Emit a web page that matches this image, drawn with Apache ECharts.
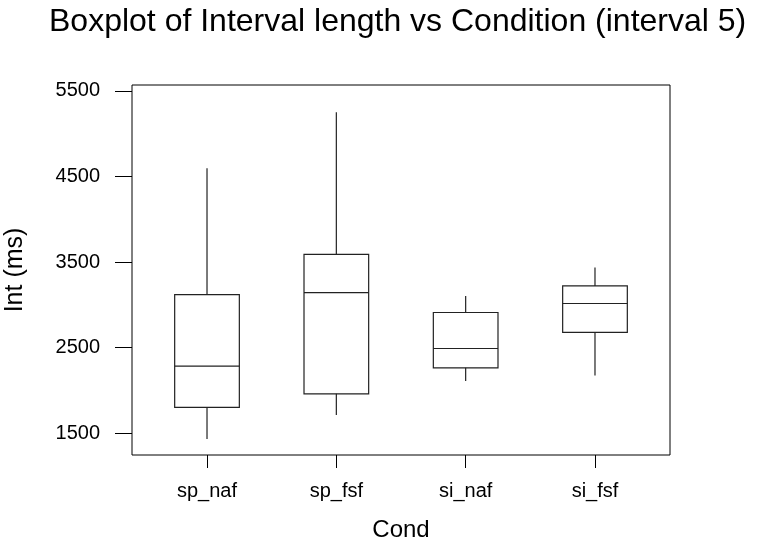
<!DOCTYPE html>
<html>
<head>
<meta charset="utf-8">
<script src="https://cdn.jsdelivr.net/npm/echarts@6/dist/echarts.min.js"></script>
<style>html,body{margin:0;padding:0;background:#fff;}#main{width:762px;height:542px;}</style>
</head>
<body>
<div id="main"></div>
<script>
const categories = ['sp_naf', 'sp_fsf', 'si_naf', 'si_fsf'];
const whiskerLow = [1433, 1713, 2110, 2176];
const q1 = [1803, 1962, 2265, 2678];
const median = [2285, 3144, 2491, 3016];
const q3 = [3121, 3591, 2911, 3221];
const whiskerHigh = [4597, 5250, 3105, 3436];
const yTicks = [1500, 2500, 3500, 4500, 5500];

const data = categories.map((c, i) => [i, whiskerLow[i], q1[i], median[i], q3[i], whiskerHigh[i]]);
const FONT = 'Liberation Sans, Arial, Helvetica, sans-serif';
const chart = echarts.init(document.getElementById('main'));
chart.setOption({
  backgroundColor: '#fff',
  animation: false,
  title: {
    text: 'Boxplot of Interval length vs Condition (interval 5)',
    left: 44, top: 1,
    textStyle: { fontFamily: FONT, fontSize: 32, fontWeight: 'normal', color: '#000' }
  },
  grid: { left: 132, right: 92, top: 85, bottom: 87, show: true, borderColor: '#000', borderWidth: 1, backgroundColor: 'transparent', containLabel: false, outerBoundsMode: 'none' },
  xAxis: {
    type: 'value', min: -0.58, max: 3.58,
    name: 'Cond', nameLocation: 'middle', nameGap: 63,
    nameTextStyle: { fontFamily: FONT, fontSize: 24, color: '#000' },
    axisLine: { show: false, onZero: false },
    splitLine: { show: false },
    axisTick: { show: true, length: 13, customValues: [0, 1, 2, 3], lineStyle: { color: '#000' } },
    axisLabel: { customValues: [0, 1, 2, 3], formatter: v => categories[Math.round(v)] || '', fontFamily: FONT, fontSize: 20, color: '#000', margin: 26 }
  },
  yAxis: {
    type: 'value', min: 1247, max: 5568,
    name: 'Int (ms)', nameLocation: 'middle', nameGap: 104,
    nameTextStyle: { fontFamily: FONT, fontSize: 25, color: '#000' },
    axisLine: { show: false, onZero: false },
    splitLine: { show: false },
    axisTick: { show: true, length: 17, customValues: yTicks, lineStyle: { color: '#000' } },
    axisLabel: { customValues: yTicks, formatter: v => String(v), fontFamily: FONT, fontSize: 20, color: '#000', margin: 32 }
  },
  series: [{
    type: 'custom',
    data: data,
    encode: { x: 0, y: [1, 2, 3, 4, 5] },
    renderItem: function (params, api) {
      const i = api.value(0);
      const pLow = api.coord([i, api.value(1)]);
      const pQ1 = api.coord([i, api.value(2)]);
      const pMed = api.coord([i, api.value(3)]);
      const pQ3 = api.coord([i, api.value(4)]);
      const pHigh = api.coord([i, api.value(5)]);
      const half = api.size([1, 0])[0] * 0.25;
      const x = pMed[0];
      const st = { stroke: '#222', lineWidth: 1.2, fill: 'none' };
      return {
        type: 'group',
        children: [
          { type: 'line', shape: { x1: x, y1: pHigh[1], x2: x, y2: pQ3[1] }, style: st },
          { type: 'line', shape: { x1: x, y1: pQ1[1], x2: x, y2: pLow[1] }, style: st },
          { type: 'rect', shape: { x: x - half, y: pQ3[1], width: half * 2, height: pQ1[1] - pQ3[1] }, style: st },
          { type: 'line', shape: { x1: x - half, y1: pMed[1], x2: x + half, y2: pMed[1] }, style: st }
        ]
      };
    }
  }]
});
</script>
</body>
</html>
